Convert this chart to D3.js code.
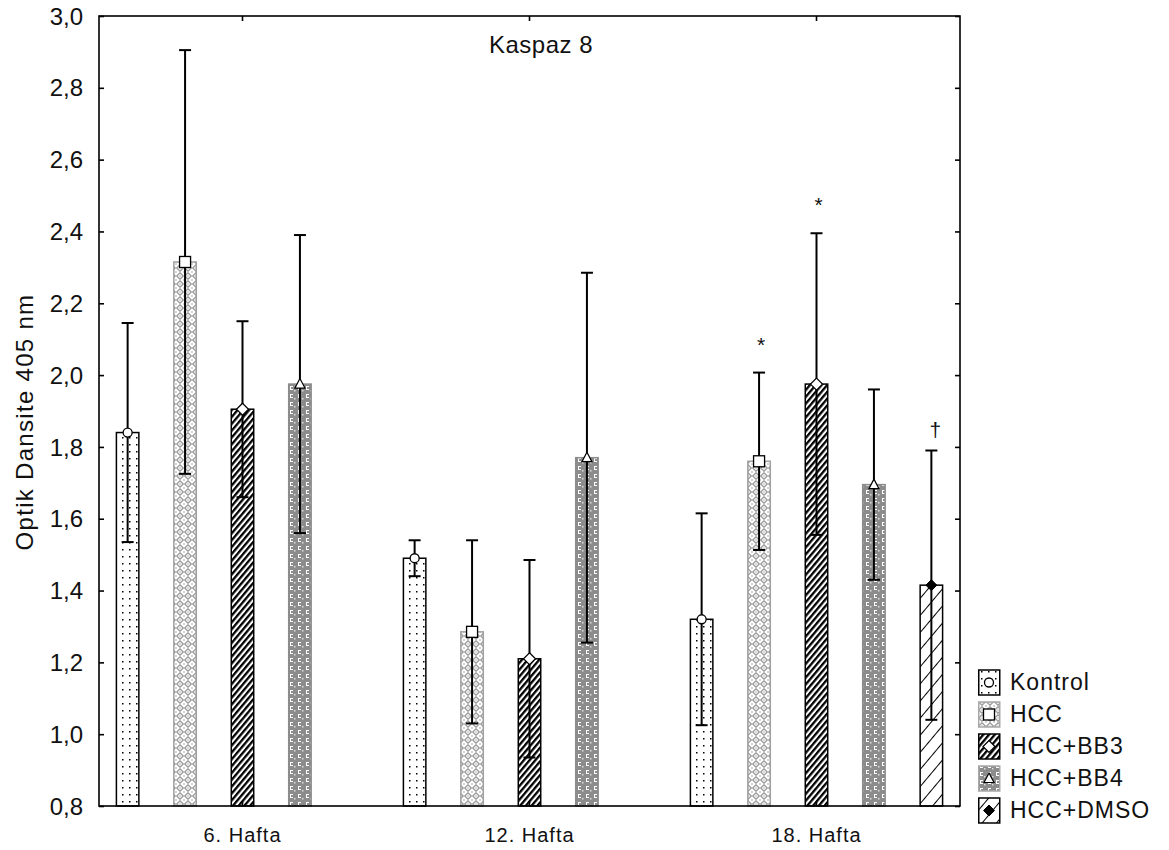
<!DOCTYPE html>
<html>
<head>
<meta charset="utf-8">
<script src="https://cdn.jsdelivr.net/npm/d3@7"></script>
<style>
  body { margin: 0; background: #fff; }
  text { font-family: "Liberation Sans", Arial, sans-serif; fill: #111; }
</style>
</head>
<body>
<script>
// chart data
const groups = ["6. Hafta", "12. Hafta", "18. Hafta"];
const series = ["Kontrol", "HCC", "HCC+BB3", "HCC+BB4", "HCC+DMSO"];
const means = {
  "Kontrol":  [1.84, 1.49, 1.32],
  "HCC":      [2.315, 1.285, 1.76],
  "HCC+BB3":  [1.905, 1.21, 1.975],
  "HCC+BB4":  [1.975, 1.77, 1.695],
  "HCC+DMSO": [null, null, 1.415]
};
const errs = {
  "Kontrol":  [0.305, 0.05, 0.295],
  "HCC":      [0.59, 0.255, 0.247],
  "HCC+BB3":  [0.245, 0.275, 0.42],
  "HCC+BB4":  [0.415, 0.515, 0.265],
  "HCC+DMSO": [null, null, 0.375]
};
const yTicks = [0.8, 1.0, 1.2, 1.4, 1.6, 1.8, 2.0, 2.2, 2.4, 2.6, 2.8, 3.0];
const marks = [
  { group: "18. Hafta", series: "HCC", text: "*" },
  { group: "18. Hafta", series: "HCC+BB3", text: "*" },
  { group: "18. Hafta", series: "HCC+DMSO", text: "\u2020" }
];

const config = { width: 1169, height: 850 };
const plot = { left: 99, right: 960, top: 16, bottom: 806 };

const svg = d3.select("body").append("svg")
  .attr("width", config.width)
  .attr("height", config.height);

// patterns
const defs = svg.append("defs");
const pDots = defs.append("pattern").attr("id", "p0")
  .attr("patternUnits", "userSpaceOnUse").attr("width", 7).attr("height", 7);
pDots.append("rect").attr("width", 7).attr("height", 7).attr("fill", "#fff");
pDots.append("rect").attr("x", 3).attr("y", 3).attr("width", 1.5).attr("height", 1.5).attr("fill", "#000");

const pHcc = defs.append("pattern").attr("id", "p1")
  .attr("patternUnits", "userSpaceOnUse").attr("width", 8).attr("height", 8);
pHcc.append("rect").attr("width", 8).attr("height", 8).attr("fill", "#fff");
pHcc.append("path").attr("d", "M4,0.8 L7.2,4 L4,7.2 L0.8,4 Z")
  .attr("fill", "none").attr("stroke", "#a0a0a0").attr("stroke-width", 1.4);
pHcc.append("rect").attr("x", 3.4).attr("y", 3.4).attr("width", 1.2).attr("height", 1.2).attr("fill", "#a8a8a8");
pHcc.append("path").attr("d", "M0,0 h1 M7,0 h1 M0,8 h1 M7,8 h1")
  .attr("stroke", "#a8a8a8").attr("stroke-width", 1.2);

const pBb3 = defs.append("pattern").attr("id", "p2")
  .attr("patternUnits", "userSpaceOnUse").attr("width", 4.4).attr("height", 10)
  .attr("patternTransform", "rotate(40)");
pBb3.append("rect").attr("width", 4.4).attr("height", 10).attr("fill", "#fff");
pBb3.append("rect").attr("width", 2.3).attr("height", 10).attr("fill", "#000");

const pBb4 = defs.append("pattern").attr("id", "p3")
  .attr("patternUnits", "userSpaceOnUse").attr("width", 8).attr("height", 8);
pBb4.append("rect").attr("width", 8).attr("height", 8).attr("fill", "#8c8c8c");
pBb4.append("path").attr("d", "M2,2 h3 v1 h-2 v2 h2 v1 h-3 Z").attr("fill", "#fff");
pBb4.append("rect").attr("x", 6).attr("y", 6).attr("width", 1.5).attr("height", 1.5).attr("fill", "#ddd");

const pDmso = defs.append("pattern").attr("id", "p4")
  .attr("patternUnits", "userSpaceOnUse").attr("width", 11).attr("height", 10)
  .attr("patternTransform", "rotate(40)");
pDmso.append("rect").attr("width", 11).attr("height", 10).attr("fill", "#fff");
pDmso.append("rect").attr("width", 1).attr("height", 10).attr("fill", "#000");

const fills = { "Kontrol": "url(#p0)", "HCC": "url(#p1)", "HCC+BB3": "url(#p2)", "HCC+BB4": "url(#p3)", "HCC+DMSO": "url(#p4)" };
const strokes = { "Kontrol": "#000", "HCC": "#a0a0a0", "HCC+BB3": "#000", "HCC+BB4": "#8c8c8c", "HCC+DMSO": "#000" };

// scales
const x0 = d3.scaleBand().domain(groups).range([plot.left, plot.right]).padding(0);
const x1 = d3.scaleBand().domain(series).range([0, x0.bandwidth()])
  .paddingInner(0.583).paddingOuter(0.29);
const y = d3.scaleLinear().domain([0.8, 3.0]).range([plot.bottom, plot.top]);

// markers
function drawMarker(g, s, cx, cy) {
  if (s === "Kontrol") {
    g.append("circle").attr("cx", cx).attr("cy", cy).attr("r", 4.5)
      .attr("fill", "#fff").attr("stroke", "#000").attr("stroke-width", 1.3);
  } else if (s === "HCC") {
    g.append("rect").attr("x", cx - 5.5).attr("y", cy - 5.5).attr("width", 11).attr("height", 11)
      .attr("fill", "#fff").attr("stroke", "#000").attr("stroke-width", 1.3);
  } else if (s === "HCC+BB3") {
    g.append("path").attr("d", `M${cx},${cy - 6} L${cx + 6},${cy} L${cx},${cy + 6} L${cx - 6},${cy} Z`)
      .attr("fill", "#fff").attr("stroke", "#000").attr("stroke-width", 1.2);
  } else if (s === "HCC+BB4") {
    g.append("path").attr("d", `M${cx},${cy - 5.5} L${cx + 5},${cy + 4} L${cx - 5},${cy + 4} Z`)
      .attr("fill", "#fff").attr("stroke", "#000").attr("stroke-width", 1.2);
  } else {
    g.append("path").attr("d", `M${cx},${cy - 5.5} L${cx + 5.5},${cy} L${cx},${cy + 5.5} L${cx - 5.5},${cy} Z`)
      .attr("fill", "#000").attr("stroke", "#000").attr("stroke-width", 1);
  }
}

// bars
const rows = [];
series.forEach(s => groups.forEach((g, i) => {
  if (means[s][i] != null) rows.push({ s, g, m: means[s][i], e: errs[s][i] });
}));

const barG = svg.append("g");
barG.selectAll("rect").data(rows).enter().append("rect")
  .attr("x", d => x0(d.g) + x1(d.s) + 0.75)
  .attr("y", d => y(d.m))
  .attr("width", x1.bandwidth() - 1.5)
  .attr("height", d => y(0.8) - y(d.m))
  .attr("fill", d => fills[d.s])
  .attr("stroke", d => strokes[d.s])
  .attr("stroke-width", 1.5);

// error bars
const errG = svg.append("g").attr("stroke", "#000").attr("stroke-width", 2);
rows.forEach(d => {
  const cx = x0(d.g) + x1(d.s) + x1.bandwidth() / 2;
  errG.append("line").attr("x1", cx).attr("x2", cx).attr("y1", y(d.m + d.e)).attr("y2", y(d.m - d.e));
  [d.m + d.e, d.m - d.e].forEach(v => {
    errG.append("line").attr("x1", cx - 6).attr("x2", cx + 6).attr("y1", y(v)).attr("y2", y(v));
  });
});
const mkG = svg.append("g");
rows.forEach(d => {
  const cx = x0(d.g) + x1(d.s) + x1.bandwidth() / 2;
  drawMarker(mkG, d.s, cx, y(d.m));
});

// significance marks
marks.forEach(mk => {
  const i = groups.indexOf(mk.group);
  const cx = x0(mk.group) + x1(mk.series) + x1.bandwidth() / 2;
  const top = y(means[mk.series][i] + errs[mk.series][i]);
  svg.append("text").attr("x", cx + (mk.text === "*" ? 2 : 4)).attr("y", top - (mk.text === "*" ? 21 : 14))
    .attr("text-anchor", "middle").attr("font-size", 21).text(mk.text);
});

// frame and axes
svg.append("rect")
  .attr("x", plot.left).attr("y", plot.top)
  .attr("width", plot.right - plot.left).attr("height", plot.bottom - plot.top)
  .attr("fill", "none").attr("stroke", "#000").attr("stroke-width", 1.6);

const fmt = v => d3.format(".1f")(v).replace(".", ",");
const leftAxis = svg.append("g").attr("transform", `translate(${plot.left},0)`)
  .call(d3.axisRight(y).tickValues(yTicks).tickSize(5).tickFormat(""));
const rightAxis = svg.append("g").attr("transform", `translate(${plot.right},0)`)
  .call(d3.axisLeft(y).tickValues(yTicks).tickSize(5).tickFormat(""));
const topAxis = svg.append("g").attr("transform", `translate(0,${plot.top})`)
  .call(d3.axisBottom(x0).tickSize(5).tickFormat(""));
const botAxis = svg.append("g").attr("transform", `translate(0,${plot.bottom})`)
  .call(d3.axisTop(x0).tickSize(5).tickFormat(""));
[leftAxis, rightAxis, topAxis, botAxis].forEach(a => {
  a.select(".domain").remove();
  a.selectAll("line").attr("stroke", "#000").attr("stroke-width", 1.6);
});

svg.append("g").selectAll("text").data(yTicks).enter().append("text")
  .attr("x", 83).attr("y", d => y(d)).attr("dy", "0.36em")
  .attr("text-anchor", "end").attr("font-size", 24).text(fmt);

svg.append("g").selectAll("text").data(groups).enter().append("text")
  .attr("x", d => x0(d) + x0.bandwidth() / 2).attr("y", 842)
  .attr("text-anchor", "middle").attr("font-size", 20).attr("letter-spacing", 1).text(d => d);

svg.append("text").attr("x", 541).attr("y", 53)
  .attr("text-anchor", "middle").attr("font-size", 24).attr("letter-spacing", 0.5).text("Kaspaz 8");

svg.append("text")
  .attr("transform", `translate(33,422) rotate(-90)`)
  .attr("text-anchor", "middle").attr("font-size", 24).attr("letter-spacing", 1.3).text("Optik Dansite 405 nm");

// legend
const legend = svg.append("g").attr("transform", "translate(978,682)");
series.forEach((s, i) => {
  const row = legend.append("g").attr("transform", `translate(0,${i * 32})`);
  row.append("rect").attr("x", 0.75).attr("y", -12).attr("width", 21).attr("height", 25)
    .attr("fill", fills[s]).attr("stroke", strokes[s] === "#000" ? "#000" : "#a8a8a8").attr("stroke-width", 1.5);
  drawMarker(row, s, 11, 0.5);
  row.append("text").attr("x", 32).attr("y", 0).attr("dy", "0.36em")
    .attr("font-size", 23).attr("letter-spacing", 1).text(s);
});
</script>
</body>
</html>
